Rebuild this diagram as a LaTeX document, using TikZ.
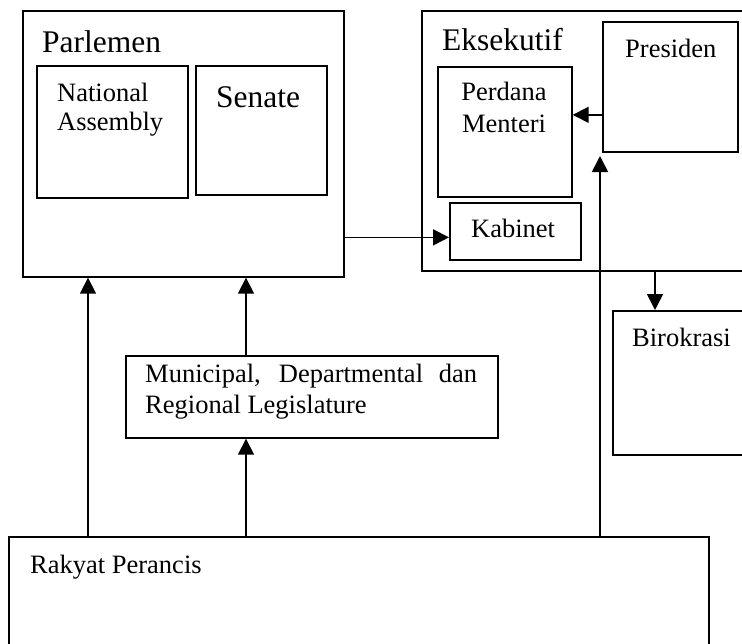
\documentclass[tikz,border=0pt]{standalone}
\usepackage{fontspec}
\setmainfont{Liberation Serif}
\usetikzlibrary{arrows.meta}
\begin{document}
\begin{tikzpicture}[x=1pt,y=-1pt,
  box/.style={draw, line width=1.7pt, inner sep=0pt, anchor=north west},
  arr/.style={-{Triangle[length=16pt,width=16pt]}, line width=1.7pt},
  big/.style={font=\fontsize{31.5}{36}\selectfont, inner sep=0pt, anchor=base west},
  txt/.style={font=\fontsize{26.5}{30}\selectfont, inner sep=0pt, anchor=base west},
  ctxt/.style={txt, anchor=base}]
\useasboundingbox (0,0) rectangle (742,643);
\clip (0,0) rectangle (742,643);

% Legislative branch
\node[box, minimum width=321pt, minimum height=266pt] (parl) at (22,10) {};
\node[box, minimum width=151pt, minimum height=132pt] (na) at (36,65) {};
\node[box, minimum width=131pt, minimum height=129pt] (sen) at (195,65) {};
\node[big] (parlT) at (42,52) {Parlemen};
\node[txt] (naT1) at (57,101) {National};
\node[txt] (naT2) at (57,130) {Assembly};
\node[big] (senT) at (216,107) {Senate};

% Executive branch
\node[box, minimum width=360pt, minimum height=260pt] (eks) at (421,10) {};
\node[box, minimum width=135pt, minimum height=130pt] (pres) at (602,21) {};
\node[box, minimum width=134pt, minimum height=130pt] (pm) at (437,66) {};
\node[box, minimum width=131pt, minimum height=57pt] (kab) at (449,202) {};
\node[big] (eksT) at (442,50) {Eksekutif};
\node[txt] (presT) at (625,57) {Presiden};
\node[ctxt] (pmT1) at (504,100) {Perdana};
\node[ctxt] (pmT2) at (504,132) {Menteri};
\node[txt] (kabT) at (471,237) {Kabinet};

% Bureaucracy
\node[box, minimum width=160pt, minimum height=144pt] (biro) at (612,310) {};
\node[txt] (biroT) at (632,346) {Birokrasi};

% Local legislatures
\node[box, minimum width=372pt, minimum height=82pt] (muni) at (125,355) {};
\node[txt] (muniT1) at (145,382) {\makebox[332pt][s]{Municipal, Departmental dan}};
\node[txt] (muniT2) at (145,413) {Regional Legislature};

% The people
\node[box, minimum width=700pt, minimum height=150pt] (rak) at (8,536) {};
\node[txt] (rakT) at (30,573) {Rakyat Perancis};

% Connector guides
\coordinate (xa) at (88,0);
\coordinate (xb) at (246,0);
\coordinate (presIn) at (600,156);
\coordinate (xbir) at (655,0);

% Connectors
\draw[arr] (rak.north -| xa) -- (parl.south -| xa);
\draw[arr] (rak.north -| xb) -- (muni.south -| xb);
\draw[arr] (muni.north -| xb) -- (parl.south -| xb);
\draw[arr] (rak.north -| presIn) -- (presIn);
\draw[arr] ([yshift=-6pt]parl.east |- kab.west) -- ([yshift=-6pt]kab.west);
\draw[arr] ([yshift=-28pt]pres.west) -- ([yshift=-28pt]pres.west -| pm.east);
\draw[arr] (eks.south -| xbir) -- (biro.north -| xbir);
\end{tikzpicture}
\end{document}
